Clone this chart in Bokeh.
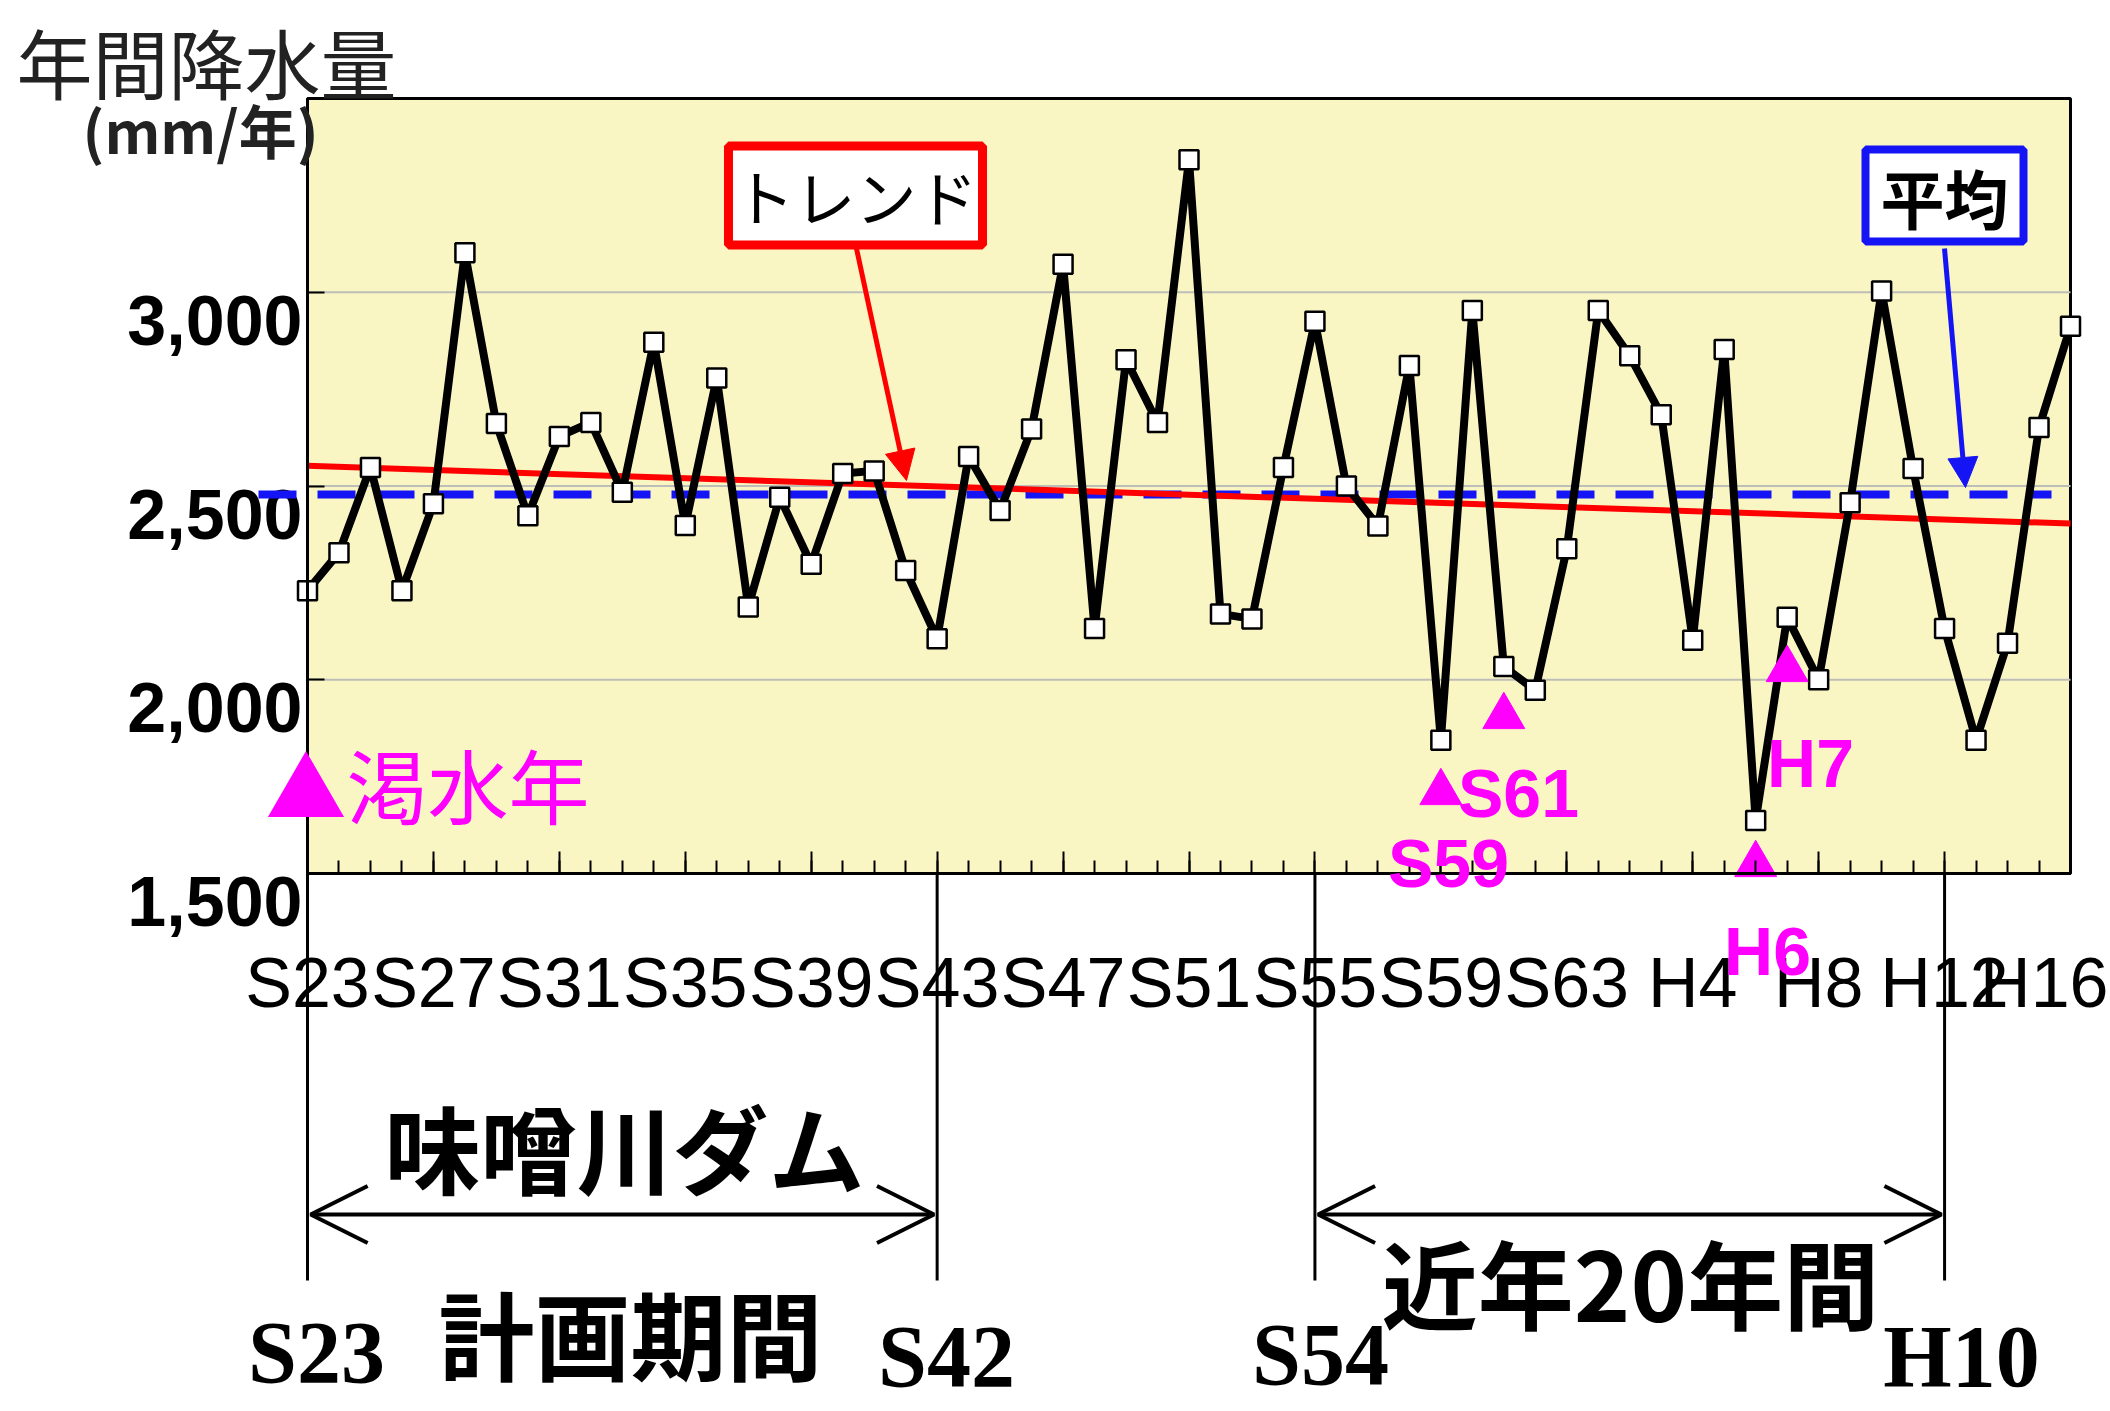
from bokeh.plotting import figure
from bokeh.models import (Range1d, FixedTicker, Label, Arrow, OpenHead, NormalHead,
                          CustomJSTickFormatter)
from bokeh.core.properties import value
from bokeh.embed import file_html
from bokeh.resources import INLINE

# ---------------- data ----------------
years = list(range(1948, 2005))
rain = [2230, 2328, 2548, 2230, 2454, 3102, 2661, 2423, 2628, 2664,
        2484, 2871, 2398, 2779, 2188, 2471, 2298, 2532, 2539, 2282,
        2106, 2576, 2437, 2647, 3072, 2132, 2826, 2664, 3342, 2170,
        2157, 2548, 2925, 2500, 2397, 2811, 1844, 2953, 2034, 1973,
        2338, 2953, 2836, 2684, 2102, 2852, 1637, 2161, 2000, 2457,
        3003, 2545, 2132, 1844, 2094, 2651, 2912]
tick_years = [1948, 1952, 1956, 1960, 1964, 1968, 1972, 1976, 1980, 1984,
              1988, 1992, 1996, 2000, 2004]
tick_labels = ["S23", "S27", "S31", "S35", "S39", "S43", "S47", "S51", "S55",
               "S59", "S63", "H4", "H8", "H12", "H16"]
y_min, y_max = 1500, 3500
y_ticks = [1500, 2000, 2500, 3000]
y_tick_labels = ["1,500", "2,000", "2,500", "3,000"]
grid_values = [2000, 2500, 3000]
mean_value = 2478
trend_years = [1948, 2004]
trend_values = [2552, 2403]
drought_years = [1984, 1986, 1994, 1995]
drought_names = ["S59", "S61", "H6", "H7"]
period_edges = [1948, 1968, 1980, 2000]
period_names = ["S23", "S42", "S54", "H10"]

# ---------------- geometry ----------------
W, H = 2108, 1404
FRAME_L, FRAME_R, FRAME_T, FRAME_B = 307, 2070, 98, 873   # chart area in canvas px
ppx = (FRAME_R - FRAME_L) / (years[-1] - years[0])        # px per year
ppy = (FRAME_B - FRAME_T) / (y_max - y_min)               # px per mm
x0 = years[0] - FRAME_L / ppx
x1 = years[-1] + (W - FRAME_R) / ppx
y1 = y_max + FRAME_T / ppy
y0 = y_min - (H - FRAME_B) / ppy

def X(px):   # picture pixel -> data (annotation placement)
    return years[0] + (px - FRAME_L) / ppx

def Y(py):
    return y_min + (FRAME_B - py) / ppy

SANS = "Liberation Sans"
CJK = "Noto Sans CJK JP"
SERIF = "Liberation Serif"
MAGENTA = "#FF00FF"
RED = "#FF0000"
BLUE = "#1414F5"

p = figure(width=W, height=H, output_backend="svg", toolbar_location=None,
           x_range=Range1d(x0, x1), y_range=Range1d(y0, y1),
           min_border=0, min_border_left=0, min_border_right=0,
           min_border_top=0, min_border_bottom=0)
p.background_fill_color = "white"
p.border_fill_color = "white"
p.outline_line_color = None
p.xgrid.visible = False
p.ygrid.visible = False

# chart background + border
bg = p.quad(left=[years[0]], right=[years[-1]], bottom=[y_min], top=[y_max],
            fill_color="#FAF6C4", line_color="black", line_width=3)
bg.level = "image"

# horizontal gridlines limited to the chart area
p.segment(x0=[years[0]] * len(grid_values), x1=[years[-1]] * len(grid_values),
          y0=grid_values, y1=grid_values, line_color="#BEBEB8", line_width=2)

xa = p.xaxis[0]
xa.fixed_location = y_min
xa.bounds = (years[0], years[-1])
xa.ticker = FixedTicker(ticks=tick_years, minor_ticks=years)
xa.major_label_overrides = {y: l for y, l in zip(tick_years, tick_labels)}
xa.major_tick_in = 22
xa.major_tick_out = 0
xa.minor_tick_in = 13
xa.minor_tick_out = 0
xa.major_tick_line_width = 2
xa.minor_tick_line_width = 2
xa.axis_line_width = 3
xa.major_label_standoff = 70
xa.major_label_text_font = SANS
xa.major_label_text_font_size = "70px"
xa.major_label_text_color = "black"

ya = p.yaxis[0]
ya.fixed_location = years[0]
ya.bounds = (y_min, y_max)
ya.ticker = FixedTicker(ticks=y_ticks)
ya.formatter = CustomJSTickFormatter(code="return ''")
ya.major_tick_in = 17
ya.major_tick_out = 0
ya.minor_tick_in = 0
ya.minor_tick_out = 0
ya.major_tick_line_width = 2
ya.axis_line_width = 3

# y tick labels (they sit just below their gridline, as in the original)
p.text(x=[years[0]] * len(y_ticks), y=y_ticks, text=y_tick_labels,
       text_align="right", text_baseline="middle", x_offset=-5, y_offset=28,
       text_font=value(SANS), text_font_style="bold", text_font_size="70px",
       text_color="black")

# mean (dashed blue), trend (red), data
p.line([X(258), X(2051)], [mean_value, mean_value], line_color=BLUE,
       line_width=8, line_dash="38 21")
p.line(trend_years, trend_values, line_color=RED, line_width=6)
p.line(years, rain, line_color="black", line_width=8)
p.scatter(years, rain, marker="square", size=19, fill_color="white",
          line_color="black", line_width=2.5)

# drought-year triangles and labels
drought_marker_y = [Y(792), Y(716), Y(864), Y(669)]
p.scatter(drought_years, drought_marker_y, marker="triangle", size=42,
          fill_color=MAGENTA, line_color=MAGENTA)
for name, (lx, ly) in zip(drought_names, [(1448, 862), (1518, 792), (1767, 950), (1810, 762)]):
    p.add_layout(Label(x=X(lx), y=Y(ly), text=name, text_align="center",
                       text_baseline="middle", text_font=SANS,
                       text_font_size="68px", text_font_style="bold",
                       text_color=MAGENTA))

p.add_layout(Label(x=X(265), y=Y(782), text="▲渇水年", text_align="left",
                   text_baseline="middle", text_font=CJK, text_font_size="81px",
                   text_color=MAGENTA))

# titles
p.add_layout(Label(x=X(16), y=Y(60), text="年間降水量", text_align="left",
                   text_baseline="middle", text_font=CJK, text_font_size="76px",
                   text_color="#222222"))
p.add_layout(Label(x=X(82), y=Y(128), text="(mm/年)", text_align="left",
                   text_baseline="middle", text_font=CJK, text_font_size="58px",
                   text_font_style="bold", text_color="#222222"))

# callout boxes
p.add_layout(Arrow(end=NormalHead(size=30, fill_color=RED, line_color=RED),
                   x_start=X(856), y_start=Y(248), x_end=X(906), y_end=Y(480),
                   line_color=RED, line_width=5))
p.add_layout(Label(x=X(855), y=Y(195), text="トレンド", text_align="center",
                   text_baseline="middle", text_font=CJK, text_font_size="61px",
                   text_color="black", background_fill_color="white",
                   border_line_color=RED, border_line_width=9, padding=5))
p.add_layout(Arrow(end=NormalHead(size=30, fill_color=BLUE, line_color=BLUE),
                   x_start=X(1944), y_start=Y(248), x_end=X(1965), y_end=Y(487),
                   line_color=BLUE, line_width=5))
p.add_layout(Label(x=X(1944), y=Y(195), text="平均", text_align="center",
                   text_baseline="middle", text_font=CJK, text_font_size="64px",
                   text_font_style="bold", text_color="black",
                   background_fill_color="white", border_line_color=BLUE,
                   border_line_width=8, padding=(15, 0)))

# period markers below the chart
for yr in period_edges:
    p.add_layout(Arrow(start=None, end=None, x_start=yr, y_start=y_min,
                       x_end=yr, y_end=Y(1280), line_color="black", line_width=3))
for a, b in [(period_edges[0], period_edges[1]), (period_edges[2], period_edges[3])]:
    p.add_layout(Arrow(start=OpenHead(size=57, line_width=4, line_color="black"),
                       end=OpenHead(size=57, line_width=4, line_color="black"),
                       x_start=a + 0.1, y_start=Y(1214), x_end=b - 0.1, y_end=Y(1214),
                       line_color="black", line_width=4))
for name, (lx, ly) in zip(period_names, [(316, 1352), (946, 1356), (1320, 1354), (1961, 1356)]):
    p.add_layout(Label(x=X(lx), y=Y(ly), text=name, text_align="center",
                       text_baseline="middle", text_font=SERIF,
                       text_font_size="88px", text_font_style="bold",
                       text_color="black"))

p.add_layout(Label(x=X(624), y=Y(1145), text="味噌川ダム", text_align="center",
                   text_baseline="middle", text_font=CJK, text_font_size="96px",
                   text_font_style="bold", text_color="black"))
p.add_layout(Label(x=X(630), y=Y(1331), text="計画期間", text_align="center",
                   text_baseline="middle", text_font=CJK, text_font_size="96px",
                   text_font_style="bold", text_color="black"))
p.add_layout(Label(x=X(1630), y=Y(1280), text="近年20年間", text_align="center",
                   text_baseline="middle", text_font=CJK, text_font_size="96px",
                   text_font_style="bold", text_color="black"))

open("out.html", "w").write(file_html(p, INLINE))
